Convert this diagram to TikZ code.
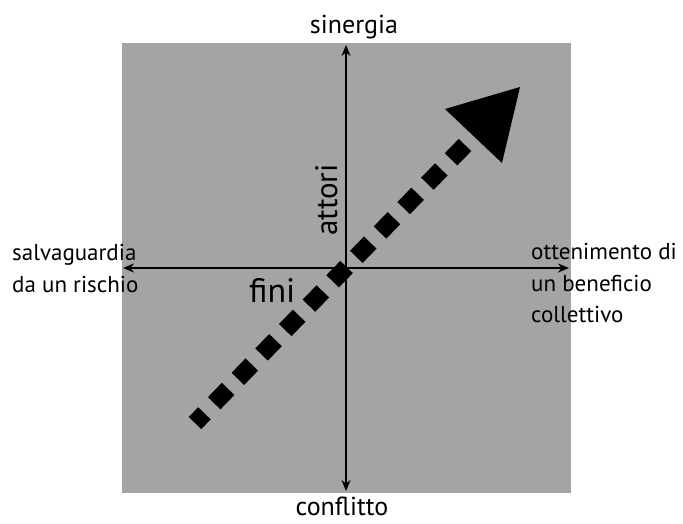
\documentclass[tikz,border=0pt]{standalone}
\usepackage{fontspec}
\setmainfont{PT Sans}
\usetikzlibrary{arrows.meta}
\definecolor{boxgray}{RGB}{164,164,163}
\begin{document}
\begin{tikzpicture}[x=1pt,y=-1pt,
  axis/.style={line width=2pt,-{Stealth[length=11pt,width=9pt]}},
  lbl/.style={font=\fontsize{23}{26}\selectfont,inner sep=0pt},
  endlbl/.style={font=\fontsize{26}{30}\selectfont,inner sep=0pt,anchor=base},
  biglbl/.style={font=\fontsize{34}{38}\selectfont,inner sep=0pt}]
\useasboundingbox (0,0) rectangle (683,523);
\fill[boxgray] (122,43) rectangle (571,493);
\coordinate (o) at (346,268);
\coordinate (top) at (346,45);
\coordinate (bot) at (346,491);
\coordinate (lft) at (123,268);
\coordinate (rgt) at (569,268);
\draw[axis] (o) -- (top);
\draw[axis] (o) -- (bot);
\draw[axis] (o) -- (lft);
\draw[axis] (o) -- (rgt);
\node[endlbl] (sin) at (354,33) {sinergia};
\node[endlbl] (con) at (342,515) {conflitto};
\node[lbl,anchor=base west] (sal1) at (12,260) {salvaguardia};
\node[lbl,anchor=base west] (sal2) at (12,292) {da un rischio};
\node[lbl,anchor=base west] (ott1) at (531,259) {ottenimento di};
\node[lbl,anchor=base west] (ott2) at (531,291) {un beneficio};
\node[lbl,anchor=base west] (ott3) at (531,322) {collettivo};
\node[biglbl,rotate=90,anchor=base west,font=\fontsize{31}{34}\selectfont] (att) at (337,236) {attori};
\node[biglbl,anchor=base west] (fin) at (249,302) {fini};
\coordinate (de) at (465,145);
\coordinate (ds) at (195,423);
\draw[line width=17.5pt,dash pattern=on 20pt off 14pt] (de) -- (ds);
\fill (520,87) -- (445,109) -- (502,163) -- cycle;
\end{tikzpicture}
\end{document}
